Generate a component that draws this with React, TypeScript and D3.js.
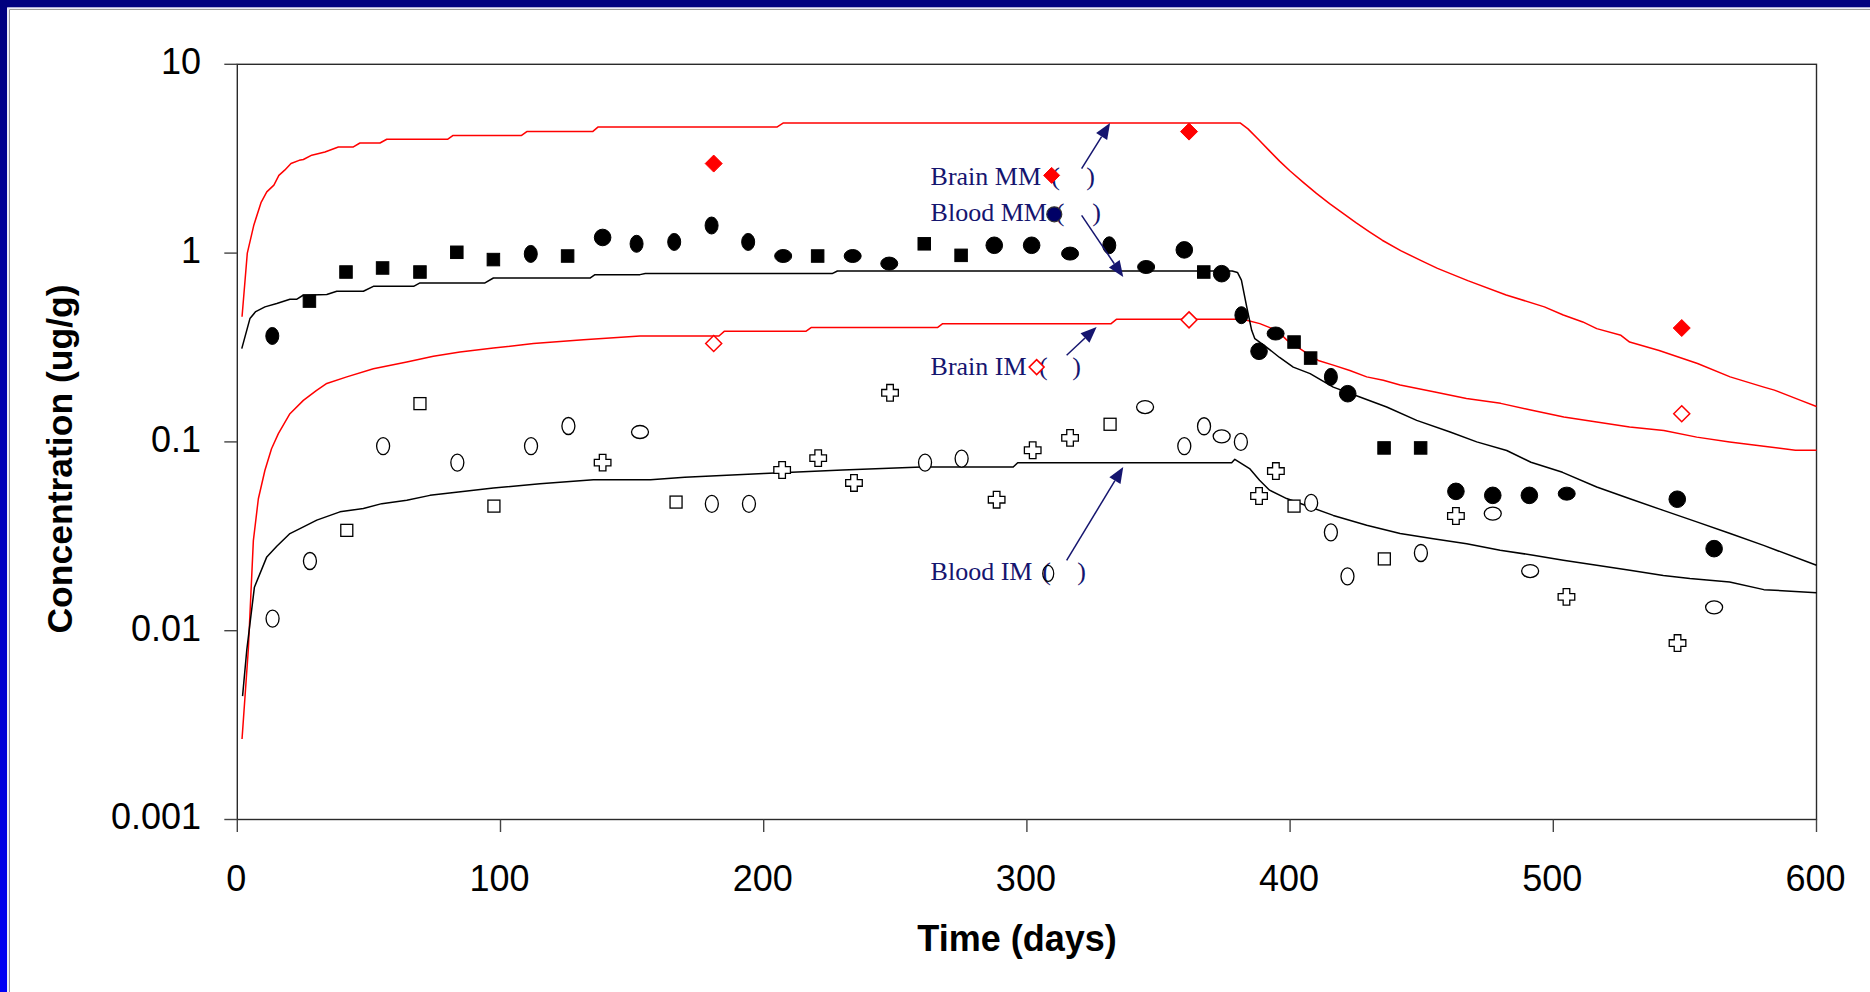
import React from 'react';
import * as d3 from 'd3';

const W = 1870;
const H = 992;

// axis ticks
const xTicks = [0, 100, 200, 300, 400, 500, 600];
const yTicks = [10, 1, 0.1, 0.01, 0.001];
const yTickLabels = ['10', '1', '0.1', '0.01', '0.001'];

// measured brain concentrations
const brainMMDays = [181, 361.6, 548.8];
const brainMMValues = [2.98, 4.4, 0.401];
const brainIMDays = [181, 361.6, 548.8];
const brainIMValues = [0.332, 0.443, 0.141];

// measured blood MM
const bloodMMDays = [13.3, 27.4, 41.3, 55.2, 69.4, 83.4, 97.3, 111.5, 125.5, 138.8, 151.7, 166, 180.2, 194.1, 207.4, 220.5, 233.8, 247.7, 261, 275, 287.6, 301.8, 316.4, 331.3, 345.3, 359.8, 367.2, 374, 381.5, 388.2, 394.5, 401.5, 407.8, 415.5, 421.9, 435.7, 449.6, 463, 477, 490.9, 505.1, 547.1, 561.1];
const bloodMMValues = [0.364, 0.557, 0.794, 0.834, 0.794, 1.01, 0.924, 0.99, 0.965, 1.21, 1.12, 1.146, 1.4, 1.146, 0.965, 0.965, 0.965, 0.88, 1.12, 0.973, 1.1, 1.1, 0.994, 1.1, 0.844, 1.04, 0.794, 0.778, 0.469, 0.302, 0.375, 0.338, 0.278, 0.221, 0.18, 0.0929, 0.0929, 0.0547, 0.0521, 0.0521, 0.0532, 0.0497, 0.0272];
const bloodMMMarkers = ['tall', 'sq', 'sq', 'sq', 'sq', 'sq', 'sq', 'tall', 'sq', 'circ', 'tall', 'tall', 'tall', 'tall', 'wide', 'sq', 'wide', 'wide', 'sq', 'sq', 'circ', 'circ', 'wide', 'tall', 'wide', 'circ', 'sq', 'circ', 'tall', 'circ', 'wide', 'sq', 'sq', 'tall', 'circ', 'sq', 'sq', 'circ', 'circ', 'circ', 'wide', 'circ', 'circ'];

// measured blood IM
const bloodIMDays = [13.4, 27.6, 41.6, 55.4, 69.4, 83.6, 97.5, 111.6, 125.8, 138.8, 153, 166.7, 180.3, 194.4, 207, 220.7, 234.3, 248, 261.3, 275.2, 288.5, 302.2, 316.4, 331.6, 344.9, 359.8, 367.3, 374, 381.3, 388.2, 394.6, 401.5, 408, 415.5, 421.8, 435.8, 449.7, 463, 477, 491.2, 505, 547.2, 561.1];
const bloodIMValues = [0.0116, 0.0234, 0.034, 0.095, 0.1595, 0.0777, 0.0457, 0.095, 0.1214, 0.0777, 0.1128, 0.048, 0.047, 0.047, 0.071, 0.082, 0.0606, 0.182, 0.0777, 0.0816, 0.0494, 0.0903, 0.105, 0.124, 0.153, 0.095, 0.121, 0.107, 0.1, 0.0517, 0.0701, 0.0457, 0.0475, 0.0332, 0.0194, 0.024, 0.0258, 0.0405, 0.0417, 0.0207, 0.0151, 0.0086, 0.0133];
const bloodIMMarkers = ['tall', 'tall', 'sq', 'tall', 'sq', 'tall', 'sq', 'tall', 'tall', 'cross', 'wide', 'sq', 'tall', 'tall', 'cross', 'cross', 'cross', 'cross', 'tall', 'tall', 'cross', 'cross', 'cross', 'sq', 'wide', 'tall', 'tall', 'wide', 'tall', 'cross', 'cross', 'sq', 'tall', 'tall', 'tall', 'sq', 'tall', 'cross', 'wide', 'wide', 'cross', 'cross', 'wide'];

// model curves [day, concentration]
const brainMMModel: [number, number][] = [
  [1.8, 0.46], [3.8, 1.0], [6.3, 1.41], [9, 1.85], [11.2, 2.11], [13.9, 2.29], [15.8, 2.58], [18, 2.75], [20.4, 2.98], [23.5, 3.1], [25.1, 3.13], [28.3, 3.3], [33.3, 3.43], [38.4, 3.65], [44.1, 3.65], [46.6, 3.83], [54.2, 3.83], [56.8, 4.01], [80, 4.01], [82, 4.2], [108, 4.2], [110, 4.4], [135, 4.4], [137, 4.65], [205, 4.65], [207.5, 4.89], [381, 4.89],
  [384, 4.55], [388, 4.0], [392, 3.5], [396, 3.07], [400, 2.72], [405, 2.37], [410, 2.07], [415, 1.83], [420, 1.63], [425, 1.45], [430, 1.3], [435, 1.17], [442, 1.03], [450, 0.91], [456, 0.83], [467.5, 0.715], [482.1, 0.6], [496.6, 0.519], [503.8, 0.47], [511.2, 0.432], [516.5, 0.398], [525.7, 0.367], [529, 0.338], [540.2, 0.305], [554.8, 0.26], [567.2, 0.221], [580, 0.195], [584, 0.188], [594, 0.166], [600, 0.154],
];
const bloodMMModel: [number, number][] = [
  [1.7, 0.312], [4.8, 0.45], [7, 0.49], [10.5, 0.519], [15, 0.541], [20, 0.569], [22.5, 0.569], [25, 0.598], [34, 0.603], [37.8, 0.628], [47.9, 0.628], [51.7, 0.667], [67, 0.667], [69.4, 0.695], [94.1, 0.695], [97.3, 0.738], [134, 0.738], [135.9, 0.769], [153, 0.769], [155, 0.779], [226, 0.779], [228, 0.804], [378, 0.804],
  [380, 0.79], [381.5, 0.72], [383.5, 0.52], [385.4, 0.39], [386.6, 0.352], [391, 0.318], [396, 0.28], [401.2, 0.249], [407.6, 0.23], [416.4, 0.195], [426.5, 0.173], [436.7, 0.153], [448.1, 0.13], [460.8, 0.1128], [470.9, 0.1], [482.3, 0.09], [491.5, 0.078], [503.5, 0.069], [516.5, 0.0577], [529.1, 0.05], [541.8, 0.0434], [554.5, 0.0377], [567.2, 0.0327], [579.9, 0.0283], [600, 0.0222],
];
const brainIMModel: [number, number][] = [
  [1.8, 0.00267], [4.2, 0.008], [6.1, 0.03], [8, 0.05], [10.5, 0.0708], [13, 0.092], [15.6, 0.1106], [20, 0.141], [25.1, 0.166], [30, 0.187], [34, 0.204], [41.6, 0.221], [51.7, 0.244], [64.4, 0.265], [74.5, 0.284], [84.6, 0.299], [97.3, 0.314], [112.5, 0.332], [131.5, 0.348], [153, 0.364], [183, 0.364], [185, 0.385], [216, 0.385], [218, 0.403], [266, 0.403], [268, 0.423], [332, 0.423], [334, 0.446], [382, 0.446],
  [388.5, 0.423], [394.9, 0.39], [398.9, 0.345], [403.7, 0.312], [407.6, 0.287], [410.7, 0.27], [416.4, 0.255], [422.7, 0.239], [429.1, 0.221], [435.4, 0.212], [441.8, 0.2], [455, 0.184], [467, 0.17], [480, 0.16], [491, 0.148], [504, 0.1355], [516.5, 0.1275], [529, 0.12], [542, 0.115], [554.5, 0.106], [567, 0.0999], [580, 0.0948], [592, 0.0902], [600, 0.0902],
];
const bloodIMModel: [number, number][] = [
  [2, 0.0045], [3.6, 0.0079], [6.5, 0.017], [11.2, 0.0246], [15, 0.028], [20, 0.0327], [23.8, 0.0347], [30.2, 0.0385], [39, 0.0426], [47.9, 0.0444], [54.9, 0.0471], [64.4, 0.0491], [73.2, 0.0521], [84, 0.0543], [97.3, 0.057], [115, 0.06], [135.3, 0.063], [157, 0.063], [170, 0.065], [200, 0.068], [230, 0.071], [260, 0.0736], [294.8, 0.0736], [296.5, 0.0776], [377.8, 0.0776],
  [379, 0.0809], [384.6, 0.0722], [388.4, 0.0626], [392.2, 0.0555], [398.7, 0.0501], [407.6, 0.0452], [416.4, 0.0408], [429.1, 0.0362], [441.8, 0.0327], [454.4, 0.0307], [467.1, 0.0289], [479.8, 0.0267], [492.4, 0.0251], [503.8, 0.0236], [516.5, 0.0222], [529.1, 0.0209], [541.8, 0.0196], [551.9, 0.0189], [567, 0.0181], [580, 0.0165], [600, 0.0159],
];

// callout labels
const calloutLabels = ['Brain MM', 'Blood MM', 'Brain IM', 'Blood IM'];
const calloutTextAt: [number, number][] = [[263.4, 2.286], [263.4, 1.479], [263.4, 0.2254], [263.4, 0.0185]];
const calloutMarkerAt: [number, number][] = [[309.4, 2.58], [310.4, 1.605], [303.7, 0.249], [308.1, 0.0201]];
const calloutParenDays: [number, number][] = [[310.9, 324.2], [312.6, 326.5], [306.2, 318.9], [307.5, 320.8]];
const calloutArrowFrom: [number, number][] = [[320.8, 2.8], [320.8, 1.585], [315.1, 0.2875], [315.1, 0.0236]];
const calloutArrowTo: [number, number][] = [[331.6, 4.89], [336.6, 0.747], [326.5, 0.406], [336.6, 0.0736]];

const PLOT = { left: 237.3, right: 1816.5, top: 64.3, bottom: 819.5 };
const NAVY = '#15156f';
const SANS = '"Liberation Sans", Arial, sans-serif';
const SERIF = '"Liberation Serif", "Times New Roman", serif';

function Marker({ kind, cx, cy, filled }: { kind: string; cx: number; cy: number; filled: boolean }) {
  const fill = filled ? '#000' : '#fff';
  const stroke = '#000';
  const sw = filled ? 1 : 1.3;
  if (kind === 'sq') {
    const s = filled ? 12.5 : 12;
    return <rect x={cx - s / 2} y={cy - s / 2} width={s} height={s} fill={fill} stroke={stroke} strokeWidth={sw} />;
  }
  if (kind === 'circ') return <circle cx={cx} cy={cy} r={8.3} fill={fill} stroke={stroke} strokeWidth={sw} />;
  if (kind === 'tall') return <ellipse cx={cx} cy={cy} rx={6.5} ry={8.5} fill={fill} stroke={stroke} strokeWidth={sw} />;
  if (kind === 'wide') return <ellipse cx={cx} cy={cy} rx={8.5} ry={6.5} fill={fill} stroke={stroke} strokeWidth={sw} />;
  // cross
  const a = 8.3, b = 3.3;
  const pts = [[-b, -a], [b, -a], [b, -b], [a, -b], [a, b], [b, b], [b, a], [-b, a], [-b, b], [-a, b], [-a, -b], [-b, -b]]
    .map(([px, py]) => `${cx + px},${cy + py}`).join(' ');
  return <polygon points={pts} fill={fill} stroke={stroke} strokeWidth={sw} />;
}

function Diamond({ cx, cy, r, filled }: { cx: number; cy: number; r: number; filled: boolean }) {
  const pts = `${cx},${cy - r} ${cx + r},${cy} ${cx},${cy + r} ${cx - r},${cy}`;
  return <polygon points={pts} fill={filled ? '#ff0000' : '#fff'} stroke="#ff0000" strokeWidth={filled ? 1 : 1.5} />;
}

export default function App() {
  const x = d3.scaleLinear().domain([0, 600]).range([PLOT.left, PLOT.right]);
  const y = d3.scaleLog().domain([0.001, 10]).range([PLOT.bottom, PLOT.top]);
  const line = d3.line<[number, number]>().x((d) => x(d[0])).y((d) => y(d[1]));

  const models = [
    { data: brainMMModel, color: '#ff0000' },
    { data: brainIMModel, color: '#ff0000' },
    { data: bloodMMModel, color: '#000' },
    { data: bloodIMModel, color: '#000' },
  ];

  return (
    <div style={{ position: 'absolute', left: 0, top: 0, width: W, height: H }}>
      <svg width={W} height={H} style={{ display: 'block' }}>
        <defs>
          <linearGradient id="leftBand" x1="0" y1="0" x2="0" y2="1">
            <stop offset="0" stopColor="#00007e" />
            <stop offset="1" stopColor="#0000f5" />
          </linearGradient>
        </defs>
        <rect x={0} y={0} width={W} height={H} fill="#fff" />
        <rect x={0} y={0} width={W} height={7.5} fill="#000080" />
        <rect x={0} y={0} width={7} height={H} fill="url(#leftBand)" />
        <line x1={7.5} y1={8} x2={W} y2={8} stroke="#d8d8ef" strokeWidth={1} />
        <line x1={8} y1={8} x2={8} y2={H} stroke="#d8d8ef" strokeWidth={1} />
        <line x1={9.5} y1={9.5} x2={W} y2={9.5} stroke="#9a9a9a" strokeWidth={1} />
        <line x1={9.5} y1={9.5} x2={9.5} y2={H} stroke="#9a9a9a" strokeWidth={1} />

        {/* plot frame */}
        <rect x={PLOT.left} y={PLOT.top} width={PLOT.right - PLOT.left} height={PLOT.bottom - PLOT.top} fill="none" stroke="#2a2a2a" strokeWidth={1.4} />

        {/* y ticks */}
        {yTicks.map((t, i) => (
          <g key={`yt${i}`}>
            <line x1={PLOT.left - 13} x2={PLOT.left} y1={y(t)} y2={y(t)} stroke="#444" strokeWidth={1.4} />
            <text x={201} y={y(t) + 9.8} textAnchor="end" fontFamily={SANS} fontSize={36} fill="#000">{yTickLabels[i]}</text>
          </g>
        ))}
        {/* x ticks */}
        {xTicks.map((t) => (
          <g key={`xt${t}`}>
            <line x1={x(t)} x2={x(t)} y1={PLOT.bottom} y2={PLOT.bottom + 12.5} stroke="#444" strokeWidth={1.4} />
            <text x={x(t) - 1} y={891} textAnchor="middle" fontFamily={SANS} fontSize={36} fill="#000">{t}</text>
          </g>
        ))}

        {/* axis titles */}
        <text x={1017} y={951} textAnchor="middle" fontFamily={SANS} fontWeight="bold" fontSize={36} fill="#000">Time (days)</text>
        <text transform="translate(72,459) rotate(-90)" textAnchor="middle" fontFamily={SANS} fontWeight="bold" fontSize={35.5} fill="#000">Concentration (ug/g)</text>

        {/* model curves */}
        {models.map((m, i) => (
          <path key={`m${i}`} d={line(m.data) || ''} fill="none" stroke={m.color} strokeWidth={1.5} strokeLinejoin="round" />
        ))}

        {/* blood IM points */}
        {bloodIMDays.map((d, i) => (
          <Marker key={`bi${i}`} kind={bloodIMMarkers[i]} cx={x(d)} cy={y(bloodIMValues[i])} filled={false} />
        ))}
        {/* blood MM points */}
        {bloodMMDays.map((d, i) => (
          <Marker key={`bm${i}`} kind={bloodMMMarkers[i]} cx={x(d)} cy={y(bloodMMValues[i])} filled={true} />
        ))}
        {/* brain points */}
        {brainMMDays.map((d, i) => (
          <Diamond key={`rm${i}`} cx={x(d)} cy={y(brainMMValues[i])} r={8.5} filled={true} />
        ))}
        {brainIMDays.map((d, i) => (
          <Diamond key={`ri${i}`} cx={x(d)} cy={y(brainIMValues[i])} r={8} filled={false} />
        ))}

        {/* callouts */}
        {calloutLabels.map((lab, i) => {
          const [tx, ty] = calloutTextAt[i];
          const [mx, my] = calloutMarkerAt[i];
          const [p1, p2] = calloutParenDays[i];
          const [fx, fy] = calloutArrowFrom[i];
          const [hx, hy] = calloutArrowTo[i];
          const x0 = x(fx), y0 = y(fy), x1 = x(hx), y1 = y(hy);
          const ang = Math.atan2(y1 - y0, x1 - x0);
          const len = 16, hw = 6.5;
          const bx = x1 - len * Math.cos(ang), by = y1 - len * Math.sin(ang);
          const nx = -Math.sin(ang), ny = Math.cos(ang);
          const head = `${x1},${y1} ${bx + nx * hw},${by + ny * hw} ${bx - nx * hw},${by - ny * hw}`;
          const cx = x(mx), cy = y(my);
          let mk: React.ReactNode = null;
          if (i === 0) mk = <Diamond cx={cx} cy={cy} r={8} filled={true} />;
          if (i === 1) mk = <circle cx={cx} cy={cy} r={7.5} fill="#000066" stroke="#333" strokeWidth={1.2} />;
          if (i === 2) mk = <Diamond cx={cx} cy={cy} r={7.5} filled={false} />;
          if (i === 3) mk = <ellipse cx={cx} cy={cy} rx={5.5} ry={8} fill="none" stroke="#000" strokeWidth={1.2} />;
          return (
            <g key={`c${i}`}>
              <text x={x(tx)} y={y(ty)} fontFamily={SERIF} fontSize={26} fill={NAVY}>{lab}</text>
              <text x={x(p1)} y={y(ty)} textAnchor="middle" fontFamily={SERIF} fontSize={26} fill={NAVY}>(</text>
              <text x={x(p2)} y={y(ty)} textAnchor="middle" fontFamily={SERIF} fontSize={26} fill={NAVY}>)</text>
              {mk}
              <line x1={x0} y1={y0} x2={bx} y2={by} stroke={NAVY} strokeWidth={1.5} />
              <polygon points={head} fill={NAVY} />
            </g>
          );
        })}
      </svg>
    </div>
  );
}
